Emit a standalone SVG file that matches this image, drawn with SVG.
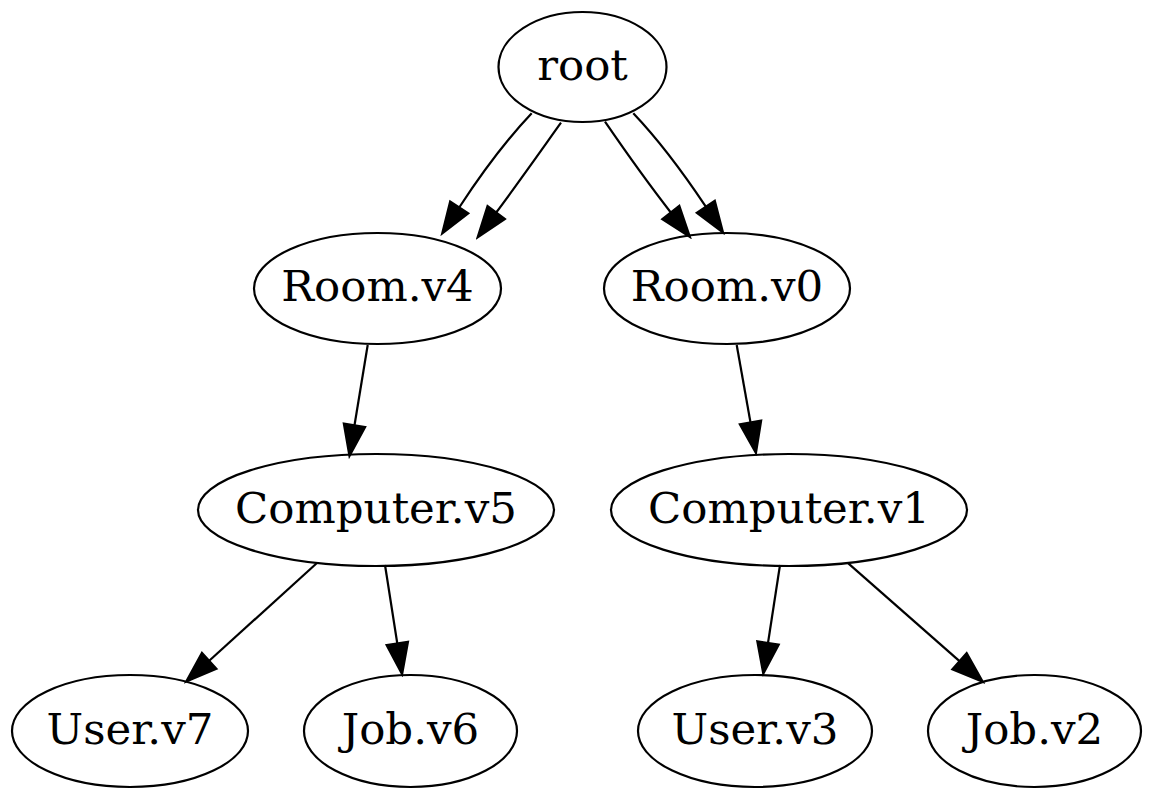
<svg xmlns="http://www.w3.org/2000/svg" width="1154" height="800" viewBox="0 0 1154 800">
<style>
.node ellipse{fill:none;stroke:#000;stroke-width:2.2}
.node text{font-family:"DejaVu Serif","Liberation Serif",serif;font-size:43.5px;text-anchor:middle;fill:#000}
.edge{fill:none;stroke:#000;stroke-width:2.2;marker-end:url(#arrow)}
</style>
<defs>
<marker id="arrow" markerUnits="userSpaceOnUse" markerWidth="36" markerHeight="26" viewBox="-2 -13 36 26" refX="0" refY="0" orient="auto">
<path d="M0,-10.8 L31,0 L0,10.8 Z" fill="#000" stroke="#000" stroke-width="2.2"/>
</marker>
</defs>
<rect width="1154" height="800" fill="#fff"/>
<g id="connectors">
<path class="edge" d="M531.7,113.3 C513,133 489,162 459.2,207.5"/>
<path class="edge" d="M561,122.7 C545,145 519,182 496.2,212.5"/>
<path class="edge" d="M605,121.7 C621,145 647,182 670.8,212.5"/>
<path class="edge" d="M633.3,113.3 C652,133 676,162 705.8,206.7"/>
<path class="edge" d="M367.7,345 L354.5,425.3"/>
<path class="edge" d="M736.7,345 L750.5,422.5"/>
<path class="edge" d="M316.7,563.3 L209.2,660.8"/>
<path class="edge" d="M385,565 L397.3,643.5"/>
<path class="edge" d="M780,565 L768,643"/>
<path class="edge" d="M848.3,563.3 L959.5,661.2"/>
</g>
<g id="root" class="node"><ellipse cx="582.5" cy="67" rx="84" ry="55"/><text x="582.5" y="79.5">root</text></g>
<g id="room_v4" class="node"><ellipse cx="377.5" cy="288.5" rx="123.5" ry="55.5"/><text x="377.5" y="301">Room.v4</text></g>
<g id="room_v0" class="node"><ellipse cx="727" cy="288.5" rx="123" ry="55.5"/><text x="727" y="301">Room.v0</text></g>
<g id="computer_v5" class="node"><ellipse cx="376" cy="510" rx="178" ry="56"/><text x="376" y="522.5">Computer.v5</text></g>
<g id="computer_v1" class="node"><ellipse cx="789" cy="510" rx="178" ry="56"/><text x="789" y="522.5">Computer.v1</text></g>
<g id="user_v7" class="node"><ellipse cx="130" cy="731" rx="118" ry="56"/><text x="130" y="743.5">User.v7</text></g>
<g id="job_v6" class="node"><ellipse cx="410.5" cy="731" rx="106.5" ry="56"/><text x="410.5" y="743.5">Job.v6</text></g>
<g id="user_v3" class="node"><ellipse cx="755" cy="731" rx="117" ry="56"/><text x="755" y="743.5">User.v3</text></g>
<g id="job_v2" class="node"><ellipse cx="1034.5" cy="731" rx="106.5" ry="56"/><text x="1034.5" y="743.5">Job.v2</text></g>
</svg>
